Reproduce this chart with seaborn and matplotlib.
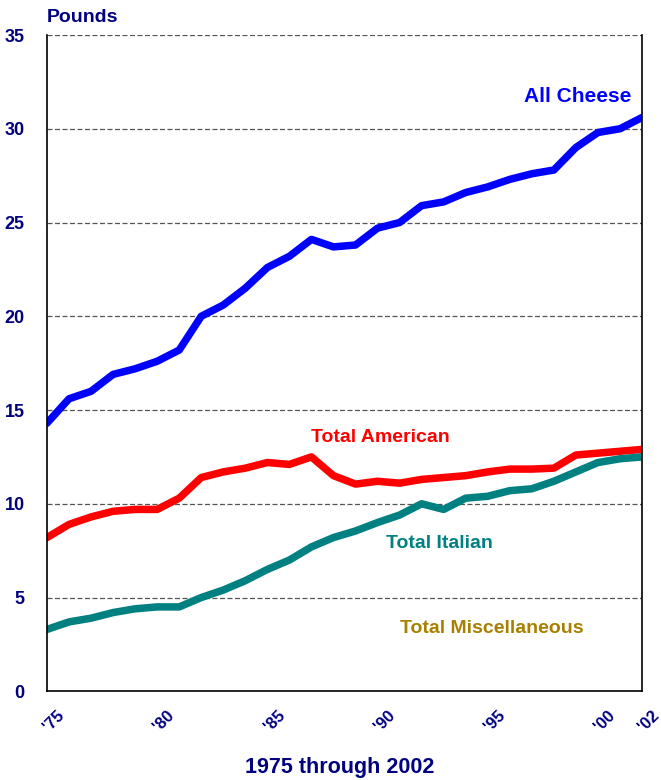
import numpy as np
import pandas as pd
import matplotlib
matplotlib.use("Agg")
import matplotlib.pyplot as plt
import matplotlib.transforms as mtransforms
import seaborn as sns

# per-capita cheese consumption, pounds
years = list(range(1975, 2003))
all_cheese = [14.3, 15.6, 16.0, 16.9, 17.2, 17.6, 18.2, 20.0, 20.6, 21.5,
              22.6, 23.2, 24.1, 23.7, 23.8, 24.7, 25.0, 25.9, 26.1, 26.6,
              26.9, 27.3, 27.6, 27.8, 29.0, 29.8, 30.0, 30.6]
total_american = [8.2, 8.9, 9.3, 9.6, 9.7, 9.7, 10.3, 11.4, 11.7, 11.9,
                  12.2, 12.1, 12.5, 11.5, 11.05, 11.2, 11.1, 11.3, 11.4, 11.5,
                  11.7, 11.85, 11.85, 11.9, 12.6, 12.7, 12.8, 12.9]
total_italian = [3.3, 3.7, 3.9, 4.2, 4.4, 4.5, 4.5, 5.0, 5.4, 5.9,
                 6.5, 7.0, 7.7, 8.2, 8.55, 9.0, 9.4, 10.0, 9.7, 10.3,
                 10.4, 10.7, 10.8, 11.2, 11.7, 12.2, 12.4, 12.5]

tick_years = [1975, 1980, 1985, 1990, 1995, 2000, 2002]
tick_labels = ["'75", "'80", "'85", "'90", "'95", "'00", "'02"]

series_names = ["All Cheese", "Total American", "Total Italian"]
colors = {"All Cheese": "#0000FF", "Total American": "#FF0000", "Total Italian": "#008080"}
navy = "#000080"
misc_color = "#A88000"

df = pd.DataFrame({
    "Year": years * 3,
    "Pounds": all_cheese + total_american + total_italian,
    "Series": [s for s in series_names for _ in years],
})

sns.set_style("white")
plt.rcParams["font.family"] = ["Liberation Sans", "DejaVu Sans"]
plt.rcParams["font.weight"] = "bold"

fig = plt.figure(figsize=(6.61, 7.8), dpi=100)
ax = fig.add_axes([47 / 661, 1 - 691.3 / 780, 595 / 661, 656.3 / 780])

sns.lineplot(data=df, x="Year", y="Pounds", hue="Series", palette=colors,
             linewidth=5.4, legend=False, ax=ax,
             solid_capstyle="round", solid_joinstyle="round")

ax.set_xlim(1975, 2002)
ax.set_ylim(0, 35)
ax.set_yticks(range(0, 36, 5))
ax.set_yticklabels([str(v) for v in range(0, 36, 5)], color=navy,
                   fontsize=13, fontweight="bold")
ax.set_xticks(tick_years)
ax.set_xticklabels(tick_labels, color=navy, fontsize=12, fontweight="bold",
                   rotation=45, ha="center")
ax.tick_params(axis="y", length=0, pad=16)
ax.tick_params(axis="x", length=0, pad=12)
shift = mtransforms.ScaledTranslation(7 / 100, 0, fig.dpi_scale_trans)
for lbl in ax.get_xticklabels():
    lbl.set_transform(lbl.get_transform() + shift)

for y in range(5, 36, 5):
    ax.axhline(y, color="#555555", linewidth=0.9, linestyle=(0, (4, 2)), zorder=0)

ax.spines["top"].set_visible(False)
for side in ["left", "right", "bottom"]:
    ax.spines[side].set_color("black")
    ax.spines[side].set_linewidth(1.2)

ax.set_xlabel("1975 through 2002", color=navy, fontsize=15.5, fontweight="bold")
ax.xaxis.set_label_coords((340 - 47) / 595, -(757 - 691) / 656)
ax.set_ylabel("")

# series labels
ax.text(2001.5, 31.7, "All Cheese", color=colors["All Cheese"], fontsize=15,
        fontweight="bold", ha="right", va="center")
ax.text(1987.0, 13.55, "Total American", color=colors["Total American"],
        fontsize=14, fontweight="bold", ha="left", va="center")
ax.text(1990.4, 7.9, "Total Italian", color=colors["Total Italian"],
        fontsize=14, fontweight="bold", ha="left", va="center")
ax.text(1991.0, 3.37, "Total Miscellaneous", color=misc_color,
        fontsize=14, fontweight="bold", ha="left", va="center")

fig.text(47 / 661, 1 - 18 / 780, "Pounds", color=navy, fontsize=14,
         fontweight="bold", ha="left", va="center")

fig.savefig("out.png", dpi=100)
